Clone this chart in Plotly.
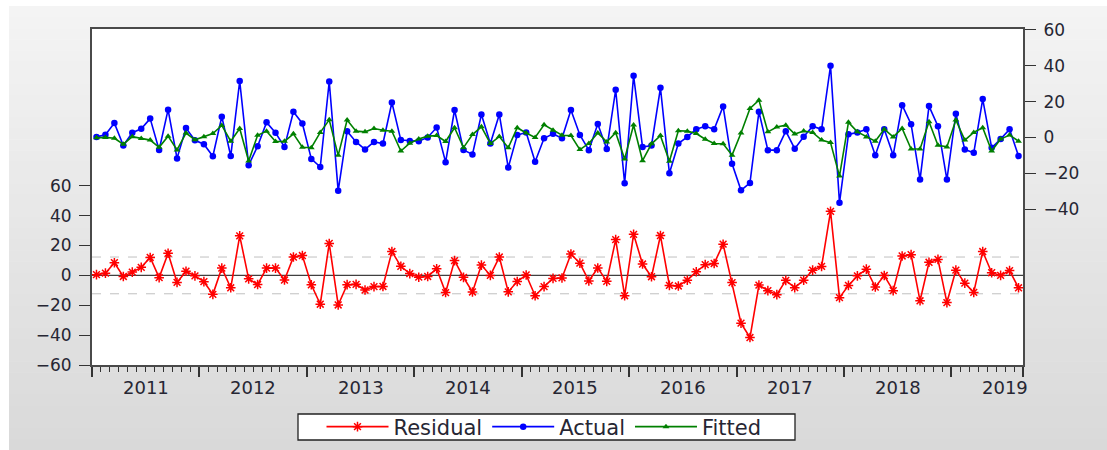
import plotly.graph_objects as go
import pandas as pd

# Monthly sample, 2011M01 - 2019M08
months = pd.period_range("2011-01", "2019-08", freq="M")
years = list(range(2011, 2020))

actual = [
    0.3, 1.5, 8.0, -4.5, 2.6, 4.8, 10.5, -7.0, 15.5, -11.7, 5.2, -1.6,
    -3.8, -10.5, 11.6, -10.4, 31.5, -15.5, -4.9, 8.4, 2.6, -5.3, 14.3, 7.8,
    -12.0, -16.5, 31.2, -29.8, 3.5, -2.5, -6.7, -2.5, -3.4, 19.5, -1.5, -2.0,
    -2.1, 0.0, 5.5, -13.8, 15.3, -7.0, -9.5, 12.8, -3.4, 12.8, -16.8, 1.3,
    2.8, -13.6, -0.5, 2.0, -0.5, 15.3, 1.4, -7.1, 7.5, -6.5, 26.6, -25.6,
    34.4, -5.4, -4.5, 27.7, -20.0, -3.4, 0.3, 4.6, 6.2, 4.6, 17.3, -14.7,
    -29.5, -25.4, 14.3, -7.1, -7.1, 3.5, -6.3, 0.4, 6.3, 4.5, 40.0, -36.5,
    1.7, 2.8, 4.5, -9.9, 4.5, -9.9, 18.0, 7.4, -23.5, 17.5, 6.3, -23.5,
    13.2, -6.7, -8.6, 21.4, -5.8, -0.9, 4.5, -10.4,
]

fitted = [
    -0.2, 0.0, -0.5, -3.8, 0.4, -0.6, -1.5, -5.5, 0.7, -7.0, 2.4, -1.3,
    0.4, 2.2, 6.7, -2.1, 5.0, -13.2, 1.2, 3.5, -2.3, -2.2, 2.0, -5.5,
    -5.7, 2.8, 9.8, -10.0, 9.7, 3.5, 3.1, 5.0, 4.0, 3.5, -7.6, -3.2,
    -0.9, 0.7, 1.0, -2.3, 5.4, -5.7, 1.6, 5.9, -3.4, 0.5, -5.8, 5.4,
    2.5, 0.0, 7.0, 4.0, 1.2, 1.0, -6.8, -3.4, 2.5, -2.5, 2.6, -12.0,
    6.9, -13.0, -3.6, 1.0, -13.3, 3.7, 3.5, 2.2, -1.0, -3.4, -3.6, -9.9,
    2.5, 16.2, 20.8, 3.1, 5.8, 6.8, 1.9, 3.6, 2.8, -1.5, -2.9, -21.6,
    8.4, 3.1, 0.3, -2.1, 4.6, 0.3, 5.0, -6.5, -6.5, 8.7, -4.4, -5.3,
    9.7, -1.5, 2.8, 5.4, -7.6, -0.9, 1.3, -2.1,
]

residual = [
    0.5, 1.5, 8.5, -0.7, 2.2, 5.4, 12.0, -1.5, 14.8, -4.7, 2.8, -0.3,
    -4.2, -12.7, 4.9, -8.3, 26.5, -2.3, -6.1, 4.9, 4.9, -3.1, 12.3, 13.3,
    -6.3, -19.3, 21.4, -19.8, -6.2, -6.0, -9.8, -7.5, -7.4, 16.0, 6.1, 1.2,
    -1.2, -0.7, 4.5, -11.5, 9.9, -1.3, -11.1, 6.9, 0.0, 12.3, -11.0, -4.1,
    0.3, -13.6, -7.5, -2.0, -1.7, 14.3, 8.2, -3.7, 5.0, -4.0, 24.0, -13.6,
    27.5, 7.6, -0.9, 26.7, -6.7, -7.1, -3.2, 2.4, 7.2, 8.0, 20.9, -4.8,
    -32.0, -41.6, -6.5, -10.2, -12.9, -3.3, -8.2, -3.2, 3.5, 6.0, 42.9, -14.9,
    -6.7, -0.3, 4.2, -7.8, -0.1, -10.2, 13.0, 13.9, -17.0, 8.8, 10.7, -18.2,
    3.5, -5.2, -11.4, 16.0, 1.8, 0.0, 3.2, -8.3,
]

resid_band = 12.3          # +/- one standard error of the regression
left_ticks = [-60, -40, -20, 0, 20, 40, 60]
right_ticks = [-40, -20, 0, 20, 40, 60]

x = list(range(len(months)))
n = len(x)

FONT = "DejaVu Sans"
TXT = "#262633"
FRAME = "#4a4a4a"

W, H = 1107, 450
plot_left, plot_right, plot_top, plot_bot = 92, 1023, 29, 365
ph = plot_bot - plot_top
pw = plot_right - plot_left


def px_x(p):
    return (p - plot_left) / pw


def px_y(p):
    return (plot_bot - p) / ph


fig = go.Figure()

fig.add_trace(go.Scatter(
    x=x, y=residual, name="Residual", mode="lines+markers",
    line=dict(color="#ff0000", width=1.6),
    marker=dict(symbol="asterisk-open", size=8, color="#ff0000",
                line=dict(color="#ff0000", width=1.5)),
    yaxis="y",
))
fig.add_trace(go.Scatter(
    x=x, y=actual, name="Actual", mode="lines+markers",
    line=dict(color="#0000ff", width=1.6),
    marker=dict(symbol="circle", size=6.5, color="#0000ff"),
    yaxis="y2",
))
fig.add_trace(go.Scatter(
    x=x, y=fitted, name="Fitted", mode="lines+markers",
    line=dict(color="#008000", width=1.6),
    marker=dict(symbol="triangle-up", size=6, color="#008000"),
    yaxis="y2",
))

# Page background: soft vertical grey gradient built from thin bands
shapes = []
top_px, bot_px, left_px = 6, H, 9
nb = 40
for k in range(nb):
    y0p = top_px + (bot_px - top_px) * k / nb
    y1p = top_px + (bot_px - top_px) * (k + 1) / nb + 0.5
    g = round(244 - (244 - 217) * (k + 0.5) / nb)
    shapes.append(dict(
        type="rect", xref="paper", yref="paper", layer="below",
        x0=px_x(left_px), x1=px_x(W + 2),
        y0=px_y(min(y1p, H + 2)), y1=px_y(y0p),
        fillcolor=f"rgb({g},{g},{g})", line=dict(width=0),
    ))
# plotting area
shapes.append(dict(type="rect", xref="paper", yref="paper", layer="below",
                   x0=0, x1=1, y0=0, y1=1, fillcolor="white", line=dict(width=0)))
# legend frame
shapes.append(dict(type="rect", xref="paper", yref="paper", layer="below",
                   x0=px_x(298), x1=px_x(795), y0=px_y(440), y1=px_y(414),
                   fillcolor="white", line=dict(color="#222222", width=1.3)))

# Zero line and residual standard-error band
shapes.append(dict(type="line", xref="paper", yref="y", x0=0, x1=1, y0=0, y1=0,
                   layer="below", line=dict(color="#404040", width=1.2)))
for v in (resid_band, -resid_band):
    shapes.append(dict(type="line", xref="paper", yref="y", x0=0, x1=1, y0=v, y1=v,
                       layer="below", line=dict(color="#c0c0c0", width=1, dash="dash")))

# Year labels centred in each calendar year
annotations = []
for yr in years:
    centre = (yr - 2011) * 12 + 5.5
    annotations.append(dict(
        x=centre, y=px_y(387), xref="x", yref="paper",
        text=str(yr), showarrow=False, xanchor="center", yanchor="middle",
        font=dict(family=FONT, size=18, color=TXT),
    ))

year_bounds = [-0.5] + [(yr - 2011) * 12 - 0.5 for yr in years[1:]] + [n - 0.5]

fig.update_layout(
    width=W, height=H,
    margin=dict(l=plot_left, r=W - plot_right, t=plot_top, b=H - plot_bot,
                autoexpand=False),
    paper_bgcolor="white", plot_bgcolor="rgba(0,0,0,0)",
    font=dict(family=FONT, size=17, color=TXT),
    shapes=shapes, annotations=annotations,
    showlegend=True,
    legend=dict(
        orientation="h", x=px_x(544), xanchor="center",
        yref="container", y=1 - 427 / H, yanchor="middle",
        bgcolor="rgba(0,0,0,0)", borderwidth=0,
        font=dict(family=FONT, size=21, color=TXT),
        itemwidth=62, tracegroupgap=0,
    ),
    xaxis=dict(
        range=[-0.5, n - 0.5], showgrid=False, zeroline=False,
        showline=True, mirror=True, linecolor=FRAME, linewidth=2,
        tickmode="array", tickvals=year_bounds, ticktext=[""] * len(year_bounds),
        ticks="outside", ticklen=10, tickwidth=1.5, tickcolor="#333333",
        minor=dict(tick0=-0.5, dtick=1, ticks="outside", ticklen=5,
                   tickwidth=1, tickcolor="#333333", showgrid=False),
    ),
    yaxis=dict(
        range=[-60, 165], showgrid=False, zeroline=False,
        showline=True, linecolor=FRAME, linewidth=2,
        tickmode="array", tickvals=left_ticks,
        ticks="outside", ticklen=11, tickwidth=1.2, tickcolor="#333333",
        ticklabelstandoff=4,
        tickfont=dict(family=FONT, size=17, color=TXT),
    ),
    yaxis2=dict(
        range=[-127, 60.5], overlaying="y", side="right",
        showgrid=False, zeroline=False,
        showline=True, linecolor=FRAME, linewidth=2,
        tickmode="array", tickvals=right_ticks,
        ticks="outside", ticklen=11, tickwidth=1.2, tickcolor="#333333",
        ticklabelstandoff=4,
        tickfont=dict(family=FONT, size=17, color=TXT),
    ),
)

fig.write_html("out.html")
